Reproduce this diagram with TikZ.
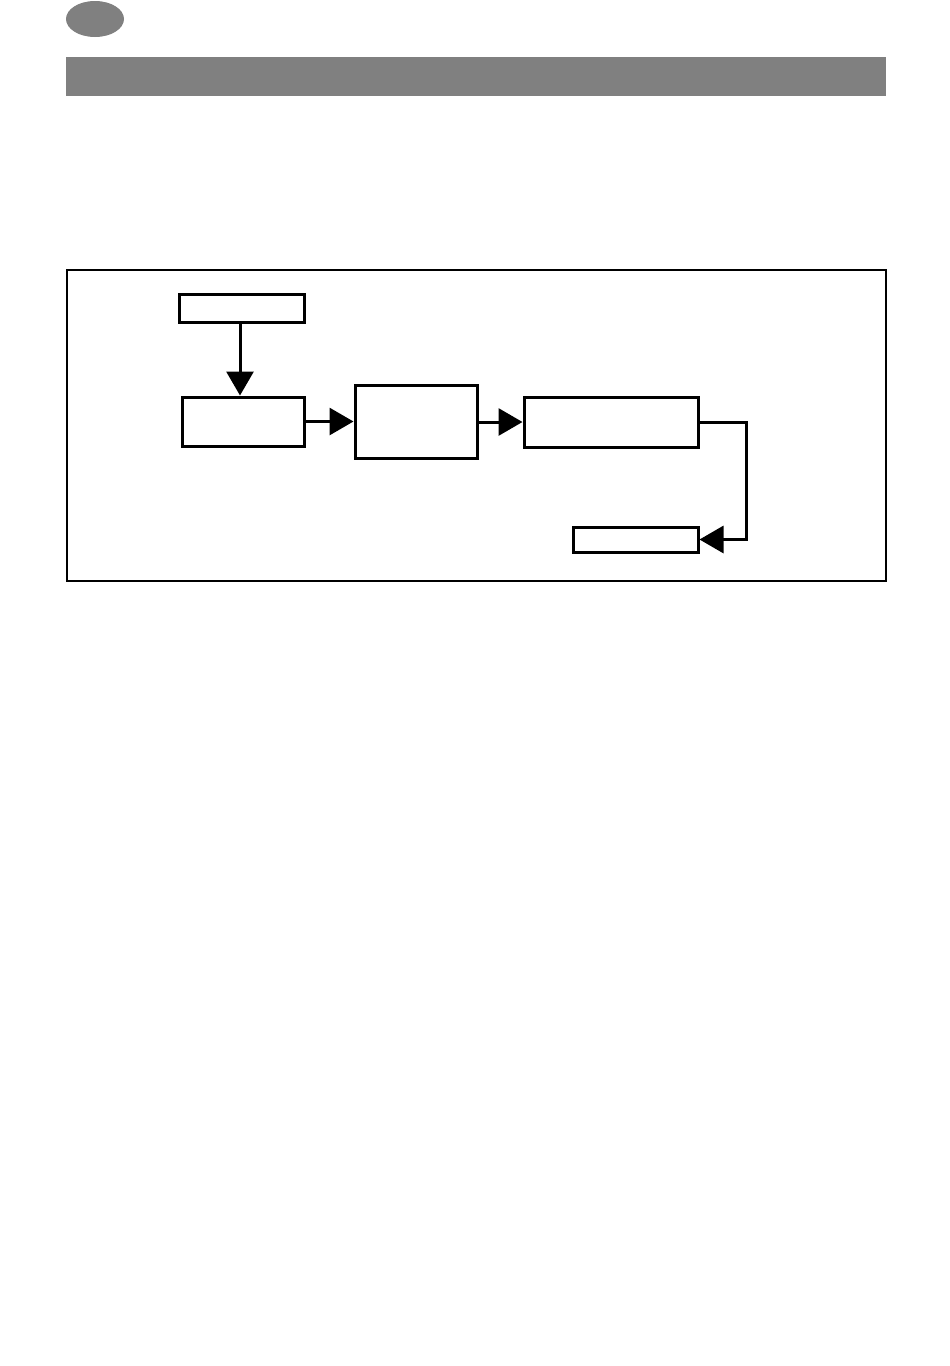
\documentclass[tikz,border=0pt]{standalone}
\usetikzlibrary{arrows.meta}
\definecolor{hdrgray}{HTML}{808080}
\begin{document}
\begin{tikzpicture}[x=1pt,y=-1pt,
  flowbox/.style={draw=black,line width=3pt,fill=white,inner sep=0pt,rectangle},
  flowarrow/.style={line width=3pt,-{Triangle[length=24pt,width=27pt]}},
  flowline/.style={line width=3pt,line join=miter}]
\fill[white] (0,0) rectangle (950,1366);
\useasboundingbox (0,0) rectangle (950,1366);
% header decorations
\fill[hdrgray] (95,19) ellipse [x radius=29, y radius=18];
\fill[hdrgray] (66,57) rectangle (886,96);
% frame
\node[draw=black,line width=1.6pt,inner sep=0pt,minimum width=819pt,minimum height=311pt] (frame) at (476.5,425.5) {};
% boxes
\node[flowbox,minimum width=125pt,minimum height=28pt] (b1) at (241.5,308) {};
\node[flowbox,minimum width=122pt,minimum height=49pt] (b2) at (243,421.5) {};
\node[flowbox,minimum width=122pt,minimum height=73pt] (b3) at (416,421.5) {};
\node[flowbox,minimum width=174pt,minimum height=50pt] (b4) at (611,422) {};
\node[flowbox,minimum width=125pt,minimum height=25pt] (b5) at (635.5,539.5) {};
\coordinate (k) at (746,539.5);
% connectors
\draw[flowarrow] (240,322) coordinate (s1) -- (s1 |- b2.north);
\draw[flowarrow] (b2.east) -- (b3.west |- b2.east);
\draw[flowarrow] (b3.east |- b4.west) -- (b4.west);
\draw[flowline,-{Triangle[length=24pt,width=27pt]}] (b4.east) -| (k) -- (b5.east);
\end{tikzpicture}
\end{document}
